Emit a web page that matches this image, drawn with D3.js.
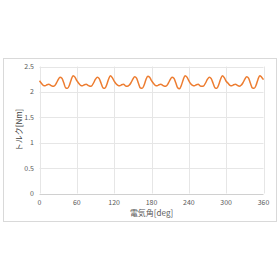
<!DOCTYPE html>
<html>
<head>
<meta charset="utf-8">
<script src="https://cdn.jsdelivr.net/npm/d3@7"></script>
<style>
  html, body { margin: 0; padding: 0; background: #fff; }
  svg { display: block; }
</style>
</head>
<body>
<div id="chart"></div>
<script>
// electrical angle [deg], step 3
const angles = d3.range(0, 361, 3);
// torque [Nm]
const torque = [
  2.22, 2.17, 2.13, 2.12, 2.14, 2.15, 2.13, 2.11, 2.12, 2.17, 2.24, 2.29, 2.27, 2.18, 2.08, 2.07, 2.13, 2.24, 2.32, 2.29,
  2.22, 2.17, 2.13, 2.12, 2.14, 2.15, 2.13, 2.11, 2.12, 2.18, 2.25, 2.29, 2.26, 2.17, 2.08, 2.07, 2.14, 2.25, 2.32, 2.28,
  2.21, 2.16, 2.13, 2.12, 2.14, 2.15, 2.12, 2.11, 2.13, 2.18, 2.25, 2.30, 2.27, 2.17, 2.08, 2.07, 2.13, 2.24, 2.31, 2.29,
  2.22, 2.17, 2.13, 2.12, 2.14, 2.15, 2.13, 2.11, 2.12, 2.17, 2.24, 2.29, 2.27, 2.18, 2.08, 2.06, 2.13, 2.24, 2.32, 2.29,
  2.22, 2.16, 2.13, 2.12, 2.14, 2.15, 2.12, 2.11, 2.12, 2.18, 2.25, 2.29, 2.26, 2.17, 2.08, 2.07, 2.14, 2.25, 2.32, 2.28,
  2.21, 2.17, 2.13, 2.12, 2.14, 2.15, 2.13, 2.11, 2.13, 2.18, 2.25, 2.30, 2.27, 2.17, 2.08, 2.07, 2.13, 2.24, 2.32, 2.29,
  2.24
];
const xTicks = [0, 60, 120, 180, 240, 300, 360];
const yTicks = [0, 0.5, 1, 1.5, 2, 2.5];

const W = 280, H = 280;
const M = { left: 39.5, right: 263.5, top: 66.5, bottom: 193.5 };
const FONT = "'Noto Sans CJK JP', 'Noto Sans', sans-serif";

const svg = d3.select("#chart").append("svg")
  .attr("width", W).attr("height", H)
  .attr("viewBox", [0, 0, W, H]);

svg.append("rect")
  .attr("x", 3.5).attr("y", 58.5)
  .attr("width", 273).attr("height", 163)
  .attr("fill", "#fff")
  .attr("stroke", "#d9d9d9")
  .attr("stroke-width", 1);

const x = d3.scaleLinear().domain([0, 360]).range([M.left, M.right]);
const y = d3.scaleLinear().domain([0, 2.5]).range([M.bottom, M.top]);

// grid
svg.append("g")
  .selectAll("line")
  .data(yTicks.filter(d => d > 0))
  .join("line")
  .attr("x1", M.left).attr("x2", M.right)
  .attr("y1", d => Math.round(y(d)) + 0.5).attr("y2", d => Math.round(y(d)) + 0.5)
  .attr("stroke", "#e6e6e6").attr("stroke-width", 1);

svg.append("g")
  .selectAll("line")
  .data(xTicks)
  .join("line")
  .attr("x1", d => Math.round(x(d)) + 0.5).attr("x2", d => Math.round(x(d)) + 0.5)
  .attr("y1", M.top).attr("y2", M.bottom)
  .attr("stroke", "#e6e6e6").attr("stroke-width", 1);

// x axis line
svg.append("line")
  .attr("x1", M.left).attr("x2", M.right)
  .attr("y1", Math.round(y(0)) + 0.5).attr("y2", Math.round(y(0)) + 0.5)
  .attr("stroke", "#d0d0d0");

// tick labels
svg.append("g")
  .selectAll("text")
  .data(yTicks)
  .join("text")
  .attr("x", 34)
  .attr("y", d => y(d))
  .attr("dy", "0.35em")
  .attr("text-anchor", "end")
  .attr("font-family", FONT)
  .attr("font-size", 7)
  .attr("fill", "#595959")
  .text(d => d);

svg.append("g")
  .selectAll("text")
  .data(xTicks)
  .join("text")
  .attr("x", d => x(d))
  .attr("y", 205)
  .attr("text-anchor", "middle")
  .attr("font-family", FONT)
  .attr("font-size", 7)
  .attr("fill", "#595959")
  .text(d => d);

// axis titles
svg.append("text")
  .attr("x", (M.left + M.right) / 2)
  .attr("y", 215.5)
  .attr("text-anchor", "middle")
  .attr("font-family", FONT)
  .attr("font-size", 8)
  .attr("fill", "#595959")
  .text("電気角[deg]");

svg.append("text")
  .attr("transform", `translate(21.5, ${(M.top + M.bottom) / 2}) rotate(-90)`)
  .attr("text-anchor", "middle")
  .attr("font-family", FONT)
  .attr("font-size", 8)
  .attr("fill", "#404040")
  .text("トルク[Nm]");

// line
const line = d3.line()
  .x((d, i) => x(angles[i]))
  .y(d => y(d))
  .curve(d3.curveMonotoneX);

svg.append("path")
  .datum(torque)
  .attr("d", line)
  .attr("fill", "none")
  .attr("stroke", "#ED7D31")
  .attr("stroke-width", 1.5)
  .attr("stroke-linejoin", "round");
</script>
</body>
</html>
